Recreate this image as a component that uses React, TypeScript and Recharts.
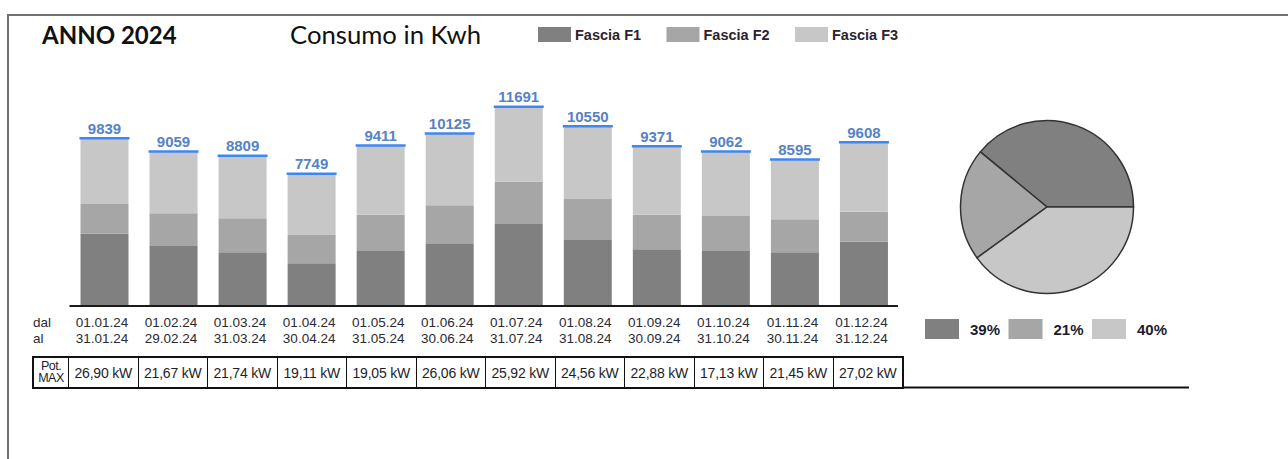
import React from 'react';
import { Bar, BarChart, Cell, LabelList, Pie, PieChart, XAxis, YAxis } from 'recharts';

// periodi di fatturazione
const periodStart = ['01.01.24', '01.02.24', '01.03.24', '01.04.24', '01.05.24', '01.06.24', '01.07.24', '01.08.24', '01.09.24', '01.10.24', '01.11.24', '01.12.24'];
const periodEnd = ['31.01.24', '29.02.24', '31.03.24', '30.04.24', '31.05.24', '30.06.24', '31.07.24', '31.08.24', '30.09.24', '31.10.24', '30.11.24', '31.12.24'];

// consumi per fascia (kWh)
const fasciaF1 = [4253, 3529, 3157, 2510, 3235, 3686, 4824, 3882, 3333, 3235, 3157, 3784];
const fasciaF2 = [1747, 1924, 2000, 1667, 2137, 2235, 2490, 2412, 2039, 2059, 1941, 1765];
const fasciaF3 = [3839, 3606, 3652, 3572, 4039, 4204, 4377, 4256, 3999, 3768, 3497, 4059];

const potMax = ['26,90 kW', '21,67 kW', '21,74 kW', '19,11 kW', '19,05 kW', '26,06 kW', '25,92 kW', '24,56 kW', '22,88 kW', '17,13 kW', '21,45 kW', '27,02 kW'];

const seriesNames = ['Fascia F1', 'Fascia F2', 'Fascia F3'];
const seriesColors = ['#808080', '#a6a6a6', '#c7c7c7'];
const yearShare = [39, 21, 40];

const chartData = periodStart.map((start, i) => ({
  start,
  end: periodEnd[i],
  f1: fasciaF1[i],
  f2: fasciaF2[i],
  f3: fasciaF3[i],
  total: fasciaF1[i] + fasciaF2[i] + fasciaF3[i],
}));

const pieData = seriesNames.map((name, i) => ({ name, value: yearShare[i] }));

const ARIAL = '"Liberation Sans", Arial, sans-serif';
const CALIBRI = 'Lato, "Open Sans", sans-serif';

const PeriodTick = (props: any) => {
  const { x, y, index } = props;
  const row = chartData[index];
  if (!row) return null;
  return (
    <g fontFamily={ARIAL} fontSize={13.5} fill="#2a2a35">
      <text x={x - 2} y={y + 20.5} textAnchor="middle" fill="#2a2a35">{row.start}</text>
      <text x={x - 2} y={y + 37} textAnchor="middle" fill="#2a2a35">{row.end}</text>
    </g>
  );
};

const TotalLabel = (props: any) => {
  const x = Number(props.x);
  const y = Number(props.y);
  const width = Number(props.width);
  return (
    <g>
      <line x1={x - 1} x2={x + width + 1} y1={y - 0.5} y2={y - 0.5} stroke="#3f87f0" strokeWidth={2.5} />
      <text
        x={x + width / 2}
        y={y - 5}
        textAnchor="middle"
        fill="#5682c6"
        fontSize={15}
        fontWeight={700}
        fontFamily={ARIAL}
      >
        {props.value}
      </text>
    </g>
  );
};

export default function App() {
  return (
    <div style={{ position: 'fixed', left: 0, top: 0, width: 1288, height: 459, background: '#fff', overflow: 'hidden' }}>
      {/* cornice */}
      <div
        style={{
          position: 'absolute',
          left: 7,
          top: 14,
          width: 1300,
          height: 500,
          borderLeft: '2px solid #707070',
          borderTop: '2px solid #707070',
        }}
      />

      <svg width={1288} height={459} style={{ position: 'absolute', left: 0, top: 0 }}>
        <text x={42} y={44} fontFamily={CALIBRI} fontWeight={700} fontSize={24} fill="#111">
          ANNO 2024
        </text>
        <text x={290} y={44} fontFamily={CALIBRI} fontSize={25.7} fill="#111">
          Consumo in Kwh
        </text>

        {seriesNames.map((name, i) => (
          <g key={name}>
            <rect x={538 + i * 128.5} y={27} width={33} height={15} fill={seriesColors[i]} />
            <text x={575 + i * 128.5} y={39.5} fontFamily={ARIAL} fontWeight={700} fontSize={14.5} fill="#2b2430">
              {name}
            </text>
          </g>
        ))}

        <text x={33} y={326.5} fontFamily={ARIAL} fontSize={13.5} fill="#2a2a35">dal</text>
        <text x={33} y={343} fontFamily={ARIAL} fontSize={13.5} fill="#2a2a35">al</text>

        <line x1={903} x2={1189} y1={387.5} y2={387.5} stroke="#111" strokeWidth={2} />

        {pieData.map((d, i) => (
          <g key={d.name}>
            <rect x={925 + i * 83.5} y={319} width={34} height={20} fill={seriesColors[i]} />
            <text x={970 + i * 83.5} y={335} fontFamily={ARIAL} fontWeight={700} fontSize={15} fill="#1c1c30">
              {d.value}%
            </text>
          </g>
        ))}
      </svg>

      <div style={{ position: 'absolute', left: 0, top: 0 }}>
        <BarChart
          width={920}
          height={360}
          data={chartData}
          margin={{ top: 102, right: 22, bottom: 14, left: 69.5 }}
        >
          <XAxis
            dataKey="start"
            interval={0}
            height={40}
            tickLine={false}
            tickSize={0}
            tickMargin={0}
            axisLine={{ stroke: '#1a1a1a', strokeWidth: 2 }}
            tick={<PeriodTick />}
          />
          <YAxis hide domain={[0, 12000]} />
          <Bar dataKey="f1" name={seriesNames[0]} stackId="a" fill={seriesColors[0]} barSize={48} isAnimationActive={false} />
          <Bar dataKey="f2" name={seriesNames[1]} stackId="a" fill={seriesColors[1]} barSize={48} isAnimationActive={false} />
          <Bar dataKey="f3" name={seriesNames[2]} stackId="a" fill={seriesColors[2]} barSize={48} isAnimationActive={false}>
            <LabelList dataKey="total" content={<TotalLabel />} />
          </Bar>
        </BarChart>
      </div>

      <div style={{ position: 'absolute', left: 947, top: 107 }}>
        <PieChart width={200} height={200} margin={{ top: 0, right: 0, bottom: 0, left: 0 }}>
          <Pie
            data={pieData}
            dataKey="value"
            cx={100}
            cy={100}
            outerRadius={86.5}
            startAngle={0}
            endAngle={360}
            stroke="#333"
            strokeWidth={1.5}
            isAnimationActive={false}
          >
            {pieData.map((d, i) => (
              <Cell key={d.name} fill={seriesColors[i]} />
            ))}
          </Pie>
        </PieChart>
      </div>

      {/* tabella potenza massima */}
      <div
        style={{
          position: 'absolute',
          left: 32,
          top: 356,
          width: 872,
          height: 33,
          boxSizing: 'border-box',
          border: '2px solid #111',
          display: 'flex',
          fontFamily: ARIAL,
          fontSize: 14,
          color: '#1e1e2a',
          letterSpacing: -0.2,
        }}
      >
        <div
          style={{
            width: 34,
            fontSize: 12.5,
            lineHeight: '12px',
            textAlign: 'center',
            paddingTop: 2,
            boxSizing: 'border-box',
            letterSpacing: -0.5,
            whiteSpace: 'nowrap',
          }}
        >
          Pot.
          <br />
          MAX
        </div>
        {potMax.map((v) => (
          <div
            key={v}
            style={{
              flex: 1,
              borderLeft: '1.5px solid #111',
              display: 'flex',
              alignItems: 'center',
              justifyContent: 'center',
            }}
          >
            {v}
          </div>
        ))}
      </div>
    </div>
  );
}
